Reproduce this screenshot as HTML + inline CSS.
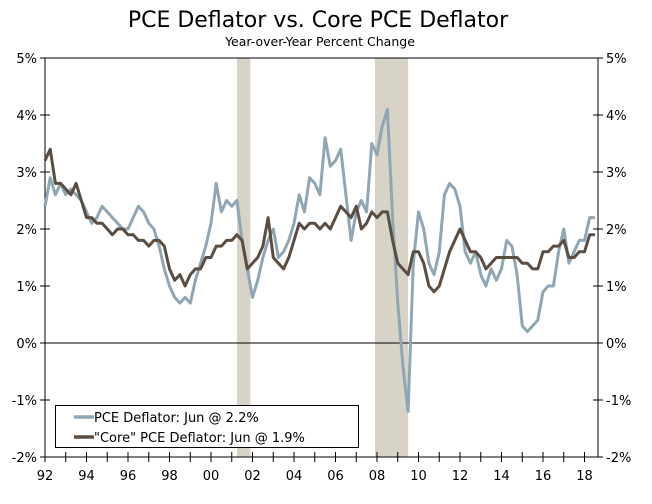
<!DOCTYPE html>
<html><head><meta charset="utf-8"><style>
body{margin:0;background:#fff;}
svg text{font-family:"DejaVu Sans","Liberation Sans",sans-serif;fill:#000;}
</style></head><body>
<svg id="chart" width="652" height="499" viewBox="0 0 652 499">
<text x="318" y="27" font-size="22" text-anchor="middle">PCE Deflator vs. Core PCE Deflator</text>
<text x="320" y="46" font-size="12.5" text-anchor="middle">Year-over-Year Percent Change</text>
<g id="rec"></g><g id="axes"></g><g id="lines"></g>
<g>
<rect x="55.5" y="405.5" width="303" height="42" fill="#fff" stroke="#000" stroke-width="1"/>
<line x1="74" y1="417" x2="94" y2="417" stroke="#8fa6b4" stroke-width="3.5"/>
<text x="94" y="422" font-size="13">PCE Deflator: Jun @ 2.2%</text>
<line x1="74" y1="437" x2="94" y2="437" stroke="#5a4d42" stroke-width="3.5"/>
<text x="94" y="442" font-size="13">"Core" PCE Deflator: Jun @ 1.9%</text>
</g>
</svg>
<script>
const pce=[2.4,2.9,2.6,2.8, 2.6,2.7,2.6,2.5, 2.3,2.1,2.2,2.4, 2.3,2.2,2.1,2.0, 2.0,2.2,2.4,2.3, 2.1,2.0,1.7,1.3, 1.0,0.8,0.7,0.8, 0.7,1.1,1.4,1.7, 2.1,2.8,2.3,2.5, 2.4,2.5,1.8,1.3, 0.8,1.1,1.5,1.8, 2.0,1.5,1.6,1.8, 2.1,2.6,2.3,2.9, 2.8,2.6,3.6,3.1, 3.2,3.4,2.6,1.8, 2.3,2.5,2.3,3.5, 3.3,3.8,4.1,2.2, 0.7,-0.4,-1.2,1.4, 2.3,2.0,1.4,1.2, 1.6,2.6,2.8,2.7, 2.4,1.6,1.4,1.6, 1.2,1.0,1.3,1.1, 1.3,1.8,1.7,1.2, 0.3,0.2,0.3,0.4, 0.9,1.0,1.0,1.6, 2.0,1.4,1.6,1.8, 1.8,2.2,2.2];
const core=[3.2,3.4,2.8,2.8, 2.7,2.6,2.8,2.5, 2.2,2.2,2.1,2.1, 2.0,1.9,2.0,2.0, 1.9,1.9,1.8,1.8, 1.7,1.8,1.8,1.7, 1.3,1.1,1.2,1.0, 1.2,1.3,1.3,1.5, 1.5,1.7,1.7,1.8, 1.8,1.9,1.8,1.3, 1.4,1.5,1.7,2.2, 1.5,1.4,1.3,1.5, 1.8,2.1,2.0,2.1, 2.1,2.0,2.1,2.0, 2.2,2.4,2.3,2.2, 2.4,2.0,2.1,2.3, 2.2,2.3,2.3,1.8, 1.4,1.3,1.2,1.6, 1.6,1.4,1.0,0.9, 1.0,1.3,1.6,1.8, 2.0,1.8,1.6,1.6, 1.5,1.3,1.4,1.5, 1.5,1.5,1.5,1.5, 1.4,1.4,1.3,1.3, 1.6,1.6,1.7,1.7, 1.8,1.5,1.5,1.6, 1.6,1.9,1.9];
const startYear=1992, step=0.25;
const recStart=[2001.25,2007.9];
const recEnd=[2001.9,2009.5];
const yTicks=[5,4,3,2,1,0,-1,-2];
const xLabels=["92","94","96","98","00","02","04","06","08","10","12","14","16","18"];
const NS="http://www.w3.org/2000/svg";
const L=45,R=598,T=58,B=457;
const X=t=>L+(t-1992)*20.75;
const Y=v=>343-v*57;
function mk(tag,attrs,parent){const e=document.createElementNS(NS,tag);for(const k in attrs)e.setAttribute(k,attrs[k]);parent.appendChild(e);return e;}
const rec=document.getElementById('rec'),ax=document.getElementById('axes'),ln=document.getElementById('lines');
recStart.forEach((s,i)=>{const r=mk('rect',{x:X(s),y:T,width:X(recEnd[i])-X(s),height:B-T,fill:'#d7d3c7'},rec);

});
mk('rect',{x:L,y:T,width:R-L,height:B-T,fill:'none',stroke:'#000','stroke-width':1},ax);
const zl=mk('line',{x1:L,x2:R,y1:Y(0),y2:Y(0),stroke:'#000','stroke-width':1},ax);


yTicks.forEach(v=>{
 mk('line',{x1:L-5,x2:L+5,y1:Y(v),y2:Y(v),stroke:'#000'},ax);
 mk('line',{x1:R-5,x2:R+5,y1:Y(v),y2:Y(v),stroke:'#000'},ax);
 const a=mk('text',{x:L-8,y:Y(v)+5,'font-size':13,'text-anchor':'end'},ax);a.textContent=v+'%';
 
 
 const b=mk('text',{x:R+8,y:Y(v)+5,'font-size':13},ax);b.textContent=v+'%';
 
 
});
for(let yr=1992;yr<=2018;yr++){mk('line',{x1:X(yr),x2:X(yr),y1:B-5,y2:B+5,stroke:'#000'},ax);}
xLabels.forEach((s,i)=>{const t=mk('text',{x:X(1992+2*i),y:B+23,'font-size':13,'text-anchor':'middle'},ax);t.textContent=s;

});
function path(d,col,name){const pts=d.map((v,i)=>X(startYear+i*step).toFixed(1)+','+Y(v).toFixed(1)).join(' ');
const p=mk('polyline',{points:pts,fill:'none',stroke:col,'stroke-width':3,'stroke-linejoin':'round'},ln);

}
path(pce,'#8fa6b4','pce-line');
path(core,'#5a4d42','core-pce-line');
</script>
</body></html>
